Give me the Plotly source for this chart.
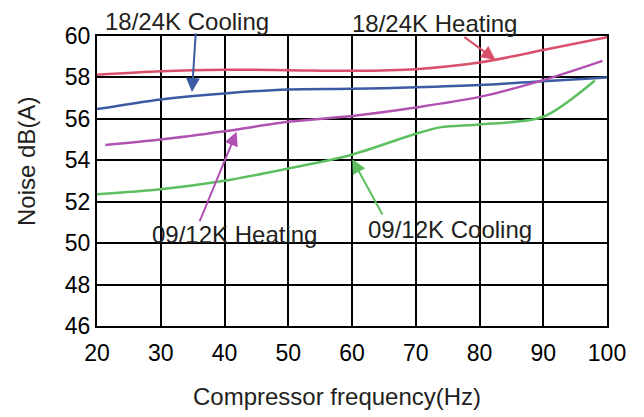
import plotly.graph_objects as go

freq = [20, 30, 40, 50, 60, 70, 80, 90, 100]
heat_1824 = [58.13, 58.3, 58.37, 58.35, 58.32, 58.4, 58.72, 59.32, 59.94]
cool_1824 = [56.47, 56.94, 57.23, 57.42, 57.45, 57.52, 57.63, 57.82, 58.0]
freq_h0912 = [21.3, 30, 40, 50, 60, 70, 80, 90, 99.3]
heat_0912 = [54.74, 55.0, 55.4, 55.86, 56.14, 56.55, 57.06, 57.87, 58.8]
freq_c0912 = [20, 30, 40, 50, 60, 70, 74, 80, 90, 98.1]
cool_0912 = [52.36, 52.6, 53.01, 53.6, 54.27, 55.28, 55.6, 55.73, 56.1, 57.85]

x_ticks = [20, 30, 40, 50, 60, 70, 80, 90, 100]
y_ticks = [46, 48, 50, 52, 54, 56, 58, 60]

RED = "#d9506a"
BLUE = "#3b5ba3"
PURPLE = "#b152b3"
GREEN = "#5dbf5f"
TXT = "#231f20"
FONT = "Liberation Sans, Arial, sans-serif"

# page offset compensation (browser body margin ~8px)
OFF = 8
L, T, PW, PH = 97, 36, 510, 290
W, H = 644, 417


def px(xp):
    return (xp - L) / PW


def py(yp):
    return (T + PH - yp) / PH


fig = go.Figure()
for xs, ys, c in [(freq, heat_1824, RED), (freq, cool_1824, BLUE),
                  (freq_h0912, heat_0912, PURPLE), (freq_c0912, cool_0912, GREEN)]:
    fig.add_trace(go.Scatter(x=xs, y=ys, mode="lines",
                             line=dict(color=c, width=2.5, shape="spline", smoothing=0.8),
                             showlegend=False, hoverinfo="skip"))

arrows = [
    (BLUE, 35.5, 60.2, 34.9, 57.3),
    (RED, 77.4, 60.0, 82.5, 58.85),
    (PURPLE, 36.0, 50.98, 41.9, 55.38),
    (GREEN, 64.9, 51.31, 60.05, 54.05),
]
for c, axx, ayy, hx, hy in arrows:
    fig.add_annotation(x=hx, y=hy, ax=axx, ay=ayy, xref="x", yref="y",
                       axref="x", ayref="y", text="", showarrow=True,
                       arrowhead=2, arrowsize=1.4, arrowwidth=2, arrowcolor=c)

texts = [
    ("18/24K Cooling", 187, 22),
    ("18/24K Heating", 434, 23),
    ("09/12K Heating", 234, 235),
    ("09/12K Cooling", 450, 229),
]
for text, tx, ty in texts:
    fig.add_annotation(x=px(tx), y=py(ty), xref="paper", yref="paper", text=text,
                       showarrow=False, xanchor="center", yanchor="middle", borderpad=0,
                       font=dict(family=FONT, size=24, color=TXT))

fig.add_annotation(x=px(337), y=py(396), xref="paper", yref="paper",
                   text="Compressor frequency(Hz)", showarrow=False,
                   xanchor="center", yanchor="middle",
                   font=dict(family=FONT, size=24, color=TXT))
fig.add_annotation(x=px(26), y=py(162), xref="paper", yref="paper",
                   text="Noise dB(A)", textangle=-90, showarrow=False,
                   xanchor="center", yanchor="middle",
                   font=dict(family=FONT, size=24, color=TXT))

axis_common = dict(showgrid=True, gridcolor="black", gridwidth=2, showline=True,
                   linecolor="black", linewidth=2, mirror=True, zeroline=False,
                   ticks="", tickfont=dict(family=FONT, size=23, color="black"))

fig.update_layout(
    width=W, height=H,
    margin=dict(l=L - OFF, r=W - L - PW + OFF, t=T - OFF, b=H - T - PH + OFF, autoexpand=False),
    paper_bgcolor="white", plot_bgcolor="white",
    xaxis=dict(range=[20, 100], tickvals=x_ticks, ticktext=[str(v) for v in x_ticks],
               ticklabelstandoff=5, **axis_common),
    yaxis=dict(range=[46, 60], tickvals=y_ticks, ticktext=[str(v) for v in y_ticks],
               **axis_common),
)

fig.write_html("out.html")
